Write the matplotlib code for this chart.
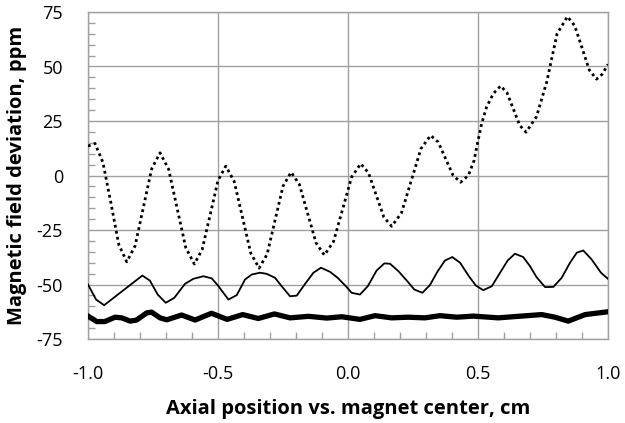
import numpy as np
import matplotlib
matplotlib.use("Agg")
import matplotlib.pyplot as plt
from matplotlib.ticker import MultipleLocator

plt.rcParams['font.family'] = ['Open Sans', 'DejaVu Sans']
plt.rcParams['axes.unicode_minus'] = False

# ---- data ----
dotted_x = [-1.0, -0.973, -0.9425, -0.912, -0.8815, -0.851, -0.819, -0.787, -0.755,
            -0.723, -0.690, -0.657, -0.624, -0.591, -0.561, -0.5305, -0.500,
            -0.470, -0.438, -0.406, -0.374, -0.342, -0.311, -0.2805, -0.250,
            -0.219, -0.187, -0.155, -0.123, -0.091, -0.056, -0.021, 0.014,
            0.049, 0.079, 0.1085, 0.138, 0.168, 0.2055, 0.243, 0.2805,
            0.318, 0.347, 0.3755, 0.404, 0.433, 0.463, 0.485, 0.499, 0.514, 0.533, 0.559,
            0.587, 0.6115, 0.636, 0.6605, 0.685, 0.725, 0.7645, 0.804,
            0.844, 0.872, 0.900, 0.928, 0.956, 0.978, 1.0]
dotted_y = [13.5, 14.7, 6.0, -12.5, -31.7, -39.6, -32.3, -14.6, 3.1,
            10.4, 2.9, -15.1, -33.1, -40.6, -34.0, -18.2, -2.3,
            4.3, -2.6, -19.1, -35.6, -42.5, -36.1, -20.5, -4.9,
            1.5, -4.1, -17.5, -30.9, -36.5, -30.4, -15.6, -0.7,
            5.4, 1.2, -9.0, -19.1, -23.3, -17.2, -2.5, 12.3,
            18.4, 15.3, 7.7, 0.1, -3.1, 0.0, 6.9, 15.4, 23.8, 31.4, 37.6,
            41.1, 38.0, 30.5, 23.0, 19.9, 27.0, 43.0, 65.0,
            72.9, 68.7, 58.6, 48.4, 44.2, 46.5, 51.0]

thin_x = [-1.0, -0.969, -0.938, -0.791, -0.762, -0.732, -0.701, -0.668, -0.627, -0.595,
          -0.556, -0.524, -0.500, -0.460, -0.428, -0.396, -0.370, -0.338, -0.313, -0.281,
          -0.255, -0.223, -0.197, -0.165, -0.133, -0.104, -0.069, -0.040, -0.008, 0.014,
          0.046, 0.076, 0.110, 0.140, 0.162, 0.194, 0.226, 0.255, 0.286, 0.315,
          0.345, 0.373, 0.401, 0.431, 0.465, 0.492, 0.520, 0.553, 0.585, 0.614,
          0.642, 0.674, 0.700, 0.725, 0.758, 0.790, 0.822, 0.854, 0.880, 0.905,
          0.937, 0.973, 1.0]
thin_y = [-50.0, -56.9, -59.5, -45.9, -48.2, -54.6, -58.4, -56.1, -49.7, -47.4,
          -46.2, -47.2, -50.5, -56.9, -54.9, -47.7, -45.4, -44.6, -45.1, -46.9,
          -50.8, -55.4, -55.1, -49.7, -44.6, -42.3, -44.2, -46.9, -50.8, -53.8,
          -54.6, -50.8, -43.6, -40.3, -40.5, -43.9, -48.2, -52.3, -53.8, -50.3,
          -43.9, -39.0, -37.4, -40.0, -46.2, -50.5, -52.6, -50.8, -44.6, -39.0,
          -35.9, -37.4, -41.6, -46.6, -51.2, -51.1, -46.9, -40.0, -35.4, -34.4,
          -38.5, -44.6, -47.4]

bold_x = [-1.0, -0.967, -0.935, -0.896, -0.870, -0.838, -0.813, -0.774, -0.755, -0.723,
          -0.697, -0.640, -0.588, -0.525, -0.465, -0.405, -0.345, -0.283, -0.223, -0.152,
          -0.081, -0.024, 0.046, 0.104, 0.168, 0.232, 0.296, 0.354, 0.418, 0.482,
          0.578, 0.655, 0.745, 0.796, 0.847, 0.912, 1.0]
bold_y = [-64.5, -67.0, -67.0, -65.0, -65.3, -66.8, -66.3, -63.0, -62.7, -65.3,
          -66.2, -64.0, -66.3, -63.2, -66.0, -63.8, -65.6, -63.5, -65.3, -64.6,
          -65.4, -64.8, -66.0, -64.3, -65.3, -65.0, -65.3, -64.3, -65.0, -64.5,
          -65.3, -64.6, -63.8, -65.0, -66.8, -63.8, -62.5]

x_ticks = [-1.0, -0.5, 0.0, 0.5, 1.0]
x_ticklabels = ["-1.0", "-0.5", "0.0", "0.5", "1.0"]
y_ticks = [-75, -50, -25, 0, 25, 50, 75]
y_ticklabels = ["-75", "-50", "-25", "0", "25", "50", "75"]
x_label = "Axial position vs. magnet center, cm"
y_label = "Magnetic field deviation, ppm"

# ---- figure ----
fig = plt.figure(figsize=(6.25, 4.23), dpi=100)
ax = fig.add_axes([88/625, 1 - 339/423, 520/625, 327/423])

grid_c = '#a0a0a0'
ax.plot(dotted_x, dotted_y, color='black', lw=2.0, linestyle=(0, (1, 1.2)),
        dash_capstyle='butt', zorder=3)
ax.plot(thin_x, thin_y, color='black', lw=1.3, zorder=3)
ax.plot(bold_x, bold_y, color='black', lw=3.8, solid_joinstyle='round', zorder=3)

ax.set_xlim(-1.0, 1.0)
ax.set_ylim(-75, 75)
ax.set_xticks(x_ticks)
ax.set_xticklabels(x_ticklabels)
ax.set_yticks(y_ticks)
ax.set_yticklabels(y_ticklabels)
ax.xaxis.set_minor_locator(MultipleLocator(0.1))
ax.yaxis.set_minor_locator(MultipleLocator(5))

ax.grid(True, which='major', color=grid_c, lw=1.0)
ax.set_axisbelow(True)
for s in ax.spines.values():
    s.set_color(grid_c)
    s.set_linewidth(1.0)

ax.tick_params(which='major', length=0, labelsize=13, colors='black')
ax.tick_params(axis='y', which='major', pad=18)
ax.tick_params(axis='x', which='major', pad=19)
ax.tick_params(which='minor', direction='in', length=5, color=grid_c, width=1.0)

ax.set_xlabel(x_label, fontsize=14.5, fontweight='bold', labelpad=11)
ax.set_ylabel(y_label, fontsize=14.5, fontweight='bold', labelpad=7)

fig.savefig('out.png', dpi=100)
